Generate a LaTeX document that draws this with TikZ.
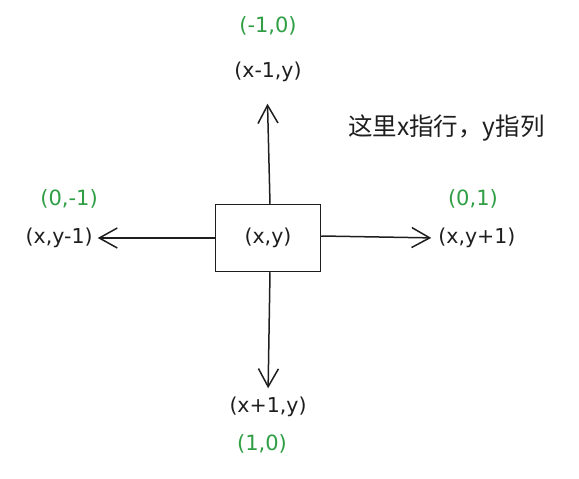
\documentclass[tikz,border=0pt]{standalone}
\usepackage{fontspec}
\setmainfont{DejaVu Sans}
\newfontfamily\cjk{Noto Sans CJK SC}
\usetikzlibrary{arrows.meta,positioning}
\definecolor{InkBlack}{HTML}{1E1E1E}
\definecolor{InkGreen}{HTML}{2F9E44}

\begin{document}
\begin{tikzpicture}[
  x=1pt,y=-1pt,
  cell/.style={draw=InkBlack,line width=1.5pt,minimum width=105pt,minimum height=67pt,inner sep=0pt,font=\fontsize{20.5}{22}\selectfont,text=InkBlack},
  spot/.style={inner sep=1pt,font=\fontsize{20.5}{22}\selectfont,text=InkBlack},
  delta/.style={inner sep=1pt,font=\fontsize{21}{22}\selectfont,text=InkGreen},
  note/.style={inner sep=0pt,font=\cjk\fontsize{24.5}{26}\selectfont,text=InkBlack},
  edge/.style={-{Straight Barb[length=18pt,width=20pt,line width=1.5pt]},draw=InkBlack,line width=1.5pt}
]
\useasboundingbox (0,0) rectangle (579,479);
\node[cell] (xy) at (268,238) {(x,y)};
% neighbours
\node[spot,above=121pt of xy] (up) {(x-1,y)};
\node[spot,left=121pt of xy] (lt) {(x,y-1)};
\node[spot,right=116pt of xy] (rt) {(x,y+1)};
\node[spot,below=123pt of xy] (dn) {(x+1,y)};
% offsets
\node[delta,above=24pt of up] (dup) {(-1,0)};
\node[delta,above=17pt of lt,xshift=10pt] (dlt) {(0,-1)};
\node[delta,above=17pt of rt,xshift=-4pt] (drt) {(0,1)};
\node[delta,below=16pt of dn,xshift=-6pt] (ddn) {(1,0)};
\node[note,anchor=west] (txt) at (348,128) {这里x指行，y指列};
\draw[edge,shorten >=21pt] ([xshift=2pt]xy.north) -- ([xshift=-1pt]up.south);
\draw[edge,shorten >=4pt] (xy.west) -- (lt.east);
\draw[edge,shorten >=6pt] ([yshift=2pt]xy.east) -- (rt.west);
\draw[edge,shorten >=7pt] ([xshift=2pt]xy.south) -- (dn.north);
\end{tikzpicture}
\end{document}
